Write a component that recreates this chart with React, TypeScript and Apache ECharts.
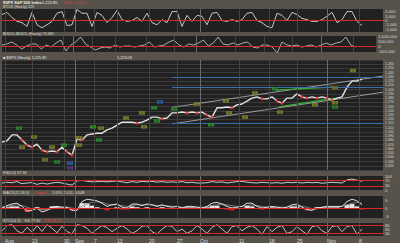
import React, { useEffect, useRef } from "react";
import * as echarts from "echarts";

// ---------- tick labels (x) ----------
const tickLabels = ["Aug", "23", "30", "Sep", "7", "13", "20", "27", "Oct", "11", "18", "25", "Nov", "8"];
const tickPos = [0.6, 6, 12.4, 14.6, 18.4, 23, 29.4, 35, 39.6, 47.4, 53.4, 59, 65, 71.4];
const monthPos = [14.6, 39.6, 65];

// ---------- price (closes, hourly sampled) ----------
const closes = [
  1076, 1079, 1093, 1093, 1081, 1069, 1064, 1071, 1057, 1053,
  1055, 1053, 1064, 1053, 1045, 1083, 1081, 1093, 1095, 1097,
  1097, 1105, 1109, 1116, 1123, 1123, 1123, 1121, 1123, 1128,
  1135, 1135, 1131, 1133, 1145, 1145, 1147, 1145, 1147, 1145,
  1147, 1140, 1135, 1157, 1157, 1159, 1157, 1164, 1166, 1173,
  1180, 1183, 1178, 1178, 1183, 1173, 1168, 1180, 1180, 1190,
  1183, 1180, 1183, 1180, 1183, 1180, 1175, 1180, 1183, 1206,
  1220, 1220, 1225,
];

// ---------- upper indicator panels ----------
const tickValues = [
  1400, 1900, 700, -200, -500, -1400, 1900, -1000, -1700, -1000,
  -200, 1700, 2100, -1200, -1000, 2600, 1700, 1700, -1400, 1900,
  1200, -500, 700, 2400, 200, -200, 0, 700, -200, 1700,
  -500, -1000, 200, -500, 2100, 2100, -1400, 1200, -200, 1200,
  1000, -1000, 1700, 1900, 0, -200, 200, -200, 200, 1700,
  1900, 0, -500, -1400, -1700, 1700, 1200, 0, 1900, 1400,
  500, 200, -200, -200, 200, 1000, 1900, -500, 200, 2100,
  2100, -200, -1200,
];
const upDownK = [
  100, 200, 400, 100, -300, 0, 200, 200, -300, 100,
  -100, 300, 600, -500, 100, 400, 900, 200, -100, -400,
  -200, -100, -200, 100, -100, 0, 0, -100, 0, 100,
  400, -100, 0, 100, 400, 600, 100, -100, 200, 100,
  300, 600, 0, 300, 900, 200, 100, 300, 100, 300,
  400, -100, -200, 100, 100, -100, -700, 400, 100, 0,
  100, -100, 0, 100, -100, 100, 300, 100, 300, 400,
  900, 100, -100,
];

// ---------- lower indicator panels ----------
const rsiValues = [
  50, 55, 52, 60, 45, 50, 53, 40, 50, 42,
  50, 55, 50, 42, 35, 65, 68, 63, 58, 60,
  62, 58, 62, 64, 58, 52, 60, 55, 62, 58,
  62, 56, 60, 55, 58, 55, 60, 52, 55, 50,
  50, 52, 60, 55, 58, 50, 55, 60, 62, 56,
  52, 50, 55, 52, 50, 53, 48, 55, 52, 56,
  50, 55, 52, 54, 48, 52, 55, 53, 50, 72,
  78, 70, 62,
];
const macdValues = [
  0, 1.5, 2.5, 3, 1, -2, -1.5, 0, -2.5, -1.5,
  0.5, 1, 0.5, 0.5, -1.5, -1.5, 4, 5.5, 5, 4.5,
  3, 1, 2, 2.5, 0.5, 0, 2.5, 2.5, 1.5, 2.5,
  2, 1, 2, 1, 0.5, 1, 0, 1, 1, 0.5,
  0, 1, 3, 3.5, 2.5, 1, 0, 0.5, 1, 3,
  3, 1, 0, 0.5, 1, 0.5, 0, 0.5, 2, 2.5,
  0.5, -1, -1.5, 0, 0.5, 1, 1, 1, 1, 4,
  5.5, 4.5, 2,
];
const signalValues = [
  0.5, 1, 1.5, 2, 1.5, 0.5, -0.5, -0.5, -1, -1,
  -0.5, 0, 0.5, 0.5, 0, -0.5, 1, 2.5, 3.5, 4,
  3.5, 2.5, 2, 2, 1.5, 1, 1.5, 2, 2, 2,
  2, 1.5, 1.5, 1.5, 1, 1, 0.5, 0.5, 0.5, 0.5,
  0.5, 0.5, 1.5, 2, 2.5, 2, 1.5, 1, 1, 1.5,
  2, 1.5, 1, 0.5, 0.5, 0.5, 0.5, 0.5, 1, 1.5,
  1, 0.5, -0.5, -0.5, 0, 0.5, 0.5, 0.5, 1, 2,
  3, 3.5, 3,
];
const stoValues = [
  40, 80, 87, 40, 20, 67, 30, 80, 35, 87,
  60, 25, 75, 35, 15, 87, 80, 60, 20, 53,
  80, 65, 33, 60, 80, 55, 20, 40, 75, 80,
  33, 15, 53, 80, 75, 33, 53, 20, 40, 80,
  53, 20, 67, 87, 53, 20, 73, 80, 40, 67,
  80, 53, 13, 73, 33, 67, 80, 20, 33, 73,
  40, 13, 73, 80, 40, 20, 73, 80, 33, 73,
  80, 13, 53,
];

// ---------- axis label values ----------
const tickAxisLabels = [2000, 1000, 0, -1000, -2000];
const udAxisLabels = [1000000, 500000, 0, -500000];
const rsiAxisLabels = [100, 70, 30, 0];
const macdAxisLabels = [5, 0, -5];
const stoAxisLabels = [80, 50, 20];

// ---------- drawn trend lines / levels (bar index, price) ----------
const channelUpper = [[34, 1158], [76.2, 1232]];
const channelLower = [[34, 1119], [76.2, 1194]];
const greenUpper = [[54.6, 1199], [66, 1206]];
const greenLower = [[55.4, 1159], [66.6, 1180]];
const blueLevels = [1230, 1206, 1121];
const blueStart = 34;

// ---------- wave-count boxes ----------
const waveX = [3.4, 4, 6.4, 10, 8.6, 12.4, 11, 13.6, 13.6, 15.4, 15.4, 18.2, 19.8, 19.4, 24.8, 28, 28.4, 30.4, 31, 31.6, 34.4, 39, 41.8, 44.8, 45.4, 48.6, 50.6, 54.6, 55.6, 62.6, 66.6, 66.6, 66.6, 70.2];
const waveP = [1109, 1064, 1088, 1064, 1034, 1069, 1029, 1026, 1015, 1086, 1069, 1112, 1109, 1081, 1133, 1145, 1112, 1157, 1126, 1171, 1154, 1166, 1117, 1173, 1145, 1135, 1192, 1202, 1147, 1164, 1204, 1169, 1159, 1245];
const waveText = ["(1)", "a", "b", "c", "(2)", "1", "(2)", "(2)", "[2]", "a", "2", "3", "b", "c", "i", "ii", "iv", "3", "4", "A", "(3)", "a", "4", "b", "c", "i", "ii", "(3)", "iv", "v", "(5)", "4", "(4)", "5"];
const waveKind = ["g", "o", "o", "o", "o", "g", "g", "b", "p", "o", "o", "g", "o", "g", "o", "o", "o", "g", "g", "b", "g", "o", "g", "o", "o", "o", "o", "g", "o", "o", "o", "o", "g", "o"];

// ---------- text notes ----------
const noteX = [2.6, 34, 34, 66.6, 71, 66.6, 67, 69.6, 66.6, 34];
const noteP = [1214, 1232, 1209, 1266, 1245, 1232, 1180, 1164, 1152, 1097];
const noteText = [
  "SPX 60-min chart",
  "161.8% (1,229.10)",
  "100% (1,205.36)",
  "100% (1,250.56)",
  "161.8% (1,237)",
  "80% (1,235.45)",
  "1,185.72 (1,191.62)",
  "1.618 of [3] from [4]",
  "extension of [3] from [1]",
  "retracement of A from B",
];
const noteKind = ["w", "w", "w", "w", "w", "w", "w", "g", "m", "b"];

const XMAX = 76.2;
const FONT = "Liberation Sans";
const RED = "#d42a2a";
const BG = "#57534a";
const PANEL = "#212121";

const boxColors: Record<string, string> = { g: "#2f9a2f", o: "#8a8a2a", b: "#2a6cc0", p: "#6a3aa8" };
const noteColors: Record<string, string> = { w: "#e8e8e8", g: "#3fd03f", m: "#d040c0", b: "#3a8ae0" };

const fmt = (v: number) => v.toLocaleString("en-US");

function vlines() {
  return tickPos.map((v) => ({
    xAxis: v,
    lineStyle: { color: monthPos.includes(v) ? "#6c6c6c" : "#434343", width: 1, type: "solid" },
  }));
}
function hline(v: number, color = RED) {
  return { yAxis: v, lineStyle: { color, width: 1, type: "solid" } };
}
function markLine(data: any[]) {
  return { silent: true, symbol: ["none", "none"], label: { show: false }, animation: false, data };
}

function buildOption() {
  const gridDefs = [
    { top: 9, height: 23 },
    { top: 36, height: 16 },
    { top: 60, height: 110 },
    { top: 176, height: 14 },
    { top: 196, height: 22 },
    { top: 223, height: 15 },
  ];
  const grid = gridDefs.map((g) => ({ ...g, left: 2, right: 17, show: true, backgroundColor: PANEL, borderWidth: 0 }));

  const xAxis = gridDefs.map((_, i) => ({
    type: "value",
    gridIndex: i,
    min: 0,
    max: XMAX,
    axisLine: { show: false },
    axisTick: { show: false },
    splitLine: { show: false },
    axisLabel:
      i === 5
        ? {
            show: true,
            customValues: tickPos,
            formatter: (v: number) => {
              const k = tickPos.findIndex((t) => Math.abs(t - v) < 1e-6);
              return k >= 0 ? tickLabels[k] : "";
            },
            fontSize: 5,
            fontFamily: FONT,
            color: "#dddddd",
            align: "left",
            margin: 2,
          }
        : { show: false },
  }));

  const yLabel = (extra: any = {}) => ({
    show: true,
    fontSize: 4.2,
    fontFamily: FONT,
    color: "#d6d6d6",
    margin: 2,
    formatter: (v: number) => fmt(v),
    ...extra,
  });
  const yBase = (i: number, min: number, max: number, labels: number[] | null, extra: any = {}) => ({
    type: "value",
    gridIndex: i,
    position: "right",
    min,
    max,
    axisLine: { show: false },
    axisTick: { show: false },
    splitLine: { show: false },
    axisLabel: labels ? yLabel({ customValues: labels }) : yLabel(),
    ...extra,
  });
  const yAxis = [
    yBase(0, -2700, 2700, tickAxisLabels),
    yBase(1, -600000, 1000000, udAxisLabels),
    {
      ...yBase(2, 1010, 1270, null),
      interval: 10,
      splitLine: { show: true, lineStyle: { color: "#3b3b3b", width: 1 } },
      axisLabel: yLabel({ showMinLabel: false, showMaxLabel: false, fontSize: 3.5, lineHeight: 3.5 }),
    },
    yBase(3, 0, 100, rsiAxisLabels),
    yBase(4, -6.25, 7.5, macdAxisLabels),
    yBase(5, 0, 100, stoAxisLabels),
  ];

  // red ticks where the close fell from the previous bar
  const redTicks = closes
    .map((c, i) => (i > 0 && c < closes[i - 1] ? [i, c] : null))
    .filter((d) => d !== null);

  const blueMarks = blueLevels.map((v) => [
    { coord: [blueStart, v], lineStyle: { color: "#3a6eb0", width: 1, type: "solid" } },
    { coord: [XMAX, v] },
  ]);

  const series: any[] = [
    {
      type: "line",
      xAxisIndex: 0,
      yAxisIndex: 0,
      data: tickValues.map((v, i) => [i, v]),
      symbol: "none",
      lineStyle: { color: "#dadada", width: 0.9 },
      markLine: markLine([...vlines(), hline(0)]),
    },
    {
      type: "line",
      xAxisIndex: 1,
      yAxisIndex: 1,
      data: upDownK.map((v, i) => [i, v * 1000]),
      symbol: "none",
      lineStyle: { color: "#cfcfcf", width: 0.8 },
      markLine: markLine([...vlines(), hline(0)]),
    },
    {
      type: "line",
      xAxisIndex: 2,
      yAxisIndex: 2,
      data: channelUpper,
      symbol: "none",
      z: 2,
      lineStyle: { color: "#b8b8b8", width: 0.8 },
      markLine: markLine([...vlines(), ...blueMarks]),
    },
    {
      type: "line",
      xAxisIndex: 2,
      yAxisIndex: 2,
      data: channelLower,
      symbol: "none",
      z: 2,
      lineStyle: { color: "#b8b8b8", width: 0.8 },
    },
    {
      type: "line",
      xAxisIndex: 2,
      yAxisIndex: 2,
      data: greenUpper,
      symbol: "none",
      z: 3,
      lineStyle: { color: "#34b034", width: 1.2 },
    },
    {
      type: "line",
      xAxisIndex: 2,
      yAxisIndex: 2,
      data: greenLower,
      symbol: "none",
      z: 3,
      lineStyle: { color: "#34b034", width: 1.2 },
    },
    {
      type: "line",
      xAxisIndex: 2,
      yAxisIndex: 2,
      data: closes.map((c, i) => [i, c]),
      symbol: "none",
      z: 4,
      lineStyle: { color: "#e2e2e2", width: 1.4 },
    },
    {
      type: "scatter",
      xAxisIndex: 2,
      yAxisIndex: 2,
      data: redTicks,
      symbol: "rect",
      symbolSize: [2.5, 3],
      z: 5,
      itemStyle: { color: "#e02a2a" },
    },
    {
      type: "scatter",
      xAxisIndex: 2,
      yAxisIndex: 2,
      z: 6,
      data: waveX.map((x, i) => ({
        value: [x, waveP[i]],
        symbol: "rect",
        symbolSize: [6, 3.5],
        itemStyle: { color: boxColors[waveKind[i]] },
        label: {
          show: true,
          position: "inside",
          formatter: waveText[i],
          fontSize: 3,
          fontFamily: FONT,
          color: "#101010",
        },
      })),
    },
    {
      type: "scatter",
      xAxisIndex: 2,
      yAxisIndex: 2,
      z: 7,
      data: noteX.map((x, i) => ({
        value: [x, noteP[i]],
        symbolSize: 1,
        itemStyle: { opacity: 0 },
        label: {
          show: true,
          position: "right",
          distance: 0,
          formatter: noteText[i],
          fontSize: 3.5,
          fontFamily: FONT,
          color: noteColors[noteKind[i]],
          backgroundColor: noteKind[i] === "w" ? "#0a0a0a" : "transparent",
          padding: [0, 1],
        },
      })),
    },
    {
      type: "line",
      xAxisIndex: 3,
      yAxisIndex: 3,
      data: rsiValues.map((v, i) => [i, v]),
      symbol: "none",
      lineStyle: { color: "#dcdcdc", width: 0.9 },
      markLine: markLine([...vlines(), hline(70), hline(30)]),
    },
    {
      type: "bar",
      xAxisIndex: 4,
      yAxisIndex: 4,
      data: macdValues.map((v, i) => {
        const h = v - signalValues[i];
        return { value: [i, h], itemStyle: { color: h >= 0 ? "#e6e6e6" : "#d42020" } };
      }),
      barWidth: 5,
      markLine: markLine([...vlines(), hline(0)]),
    },
    {
      type: "line",
      xAxisIndex: 4,
      yAxisIndex: 4,
      data: signalValues.map((v, i) => [i, v]),
      symbol: "none",
      lineStyle: { color: "#8c8c8c", width: 0.8 },
    },
    {
      type: "line",
      xAxisIndex: 4,
      yAxisIndex: 4,
      data: macdValues.map((v, i) => [i, v]),
      symbol: "none",
      lineStyle: { color: "#f0f0f0", width: 0.9 },
    },
    {
      type: "line",
      xAxisIndex: 5,
      yAxisIndex: 5,
      data: stoValues.map((v, i) => [i, v]),
      symbol: "none",
      lineStyle: { color: "#ecc8c8", width: 0.9 },
      markLine: markLine([...vlines(), hline(80), hline(20)]),
    },
  ];

  const txt = (x: number, y: number, text: string, fill = "#e8e8e8", size = 4.5, weight: any = "normal") => ({
    type: "text",
    x,
    y,
    style: { text, fill, fontSize: size, fontFamily: FONT, fontWeight: weight, textVerticalAlign: "middle" },
    silent: true,
    z: 20,
  });

  const graphic = [
    txt(3, 2.5, "$SPX S&P 500 Index", "#f0f0f0", 4, "bold"),
    txt(42, 2.5, "1,225.85", "#f0f0f0", 4),
    txt(62, 2.5, "-3.66  -0.31%", "#e03a3a", 4),
    txt(3, 6.5, "$TICK (Hourly) 229", "#dedede", 3.6),
    txt(3, 34, "$UVOL-$DVOL (Hourly) 73,383", "#dedede", 3.6),
    txt(3, 57.5, "\u25A0 $SPX (Hourly) 1,225.85", "#e8e8e8", 3.8),
    txt(117, 57.5, "1,223.03", "#e8e8e8", 3.8),
    txt(3, 173, "RSI(14) 67.96", "#dedede", 3.8),
    txt(3, 193, "MACD(12,26,9)", "#dedede", 3.8),
    txt(32, 193, "\u2014 signal", "#e03a3a", 3.8),
    txt(52, 193, "2.059, 2.011, 0.048", "#dedede", 3.8),
    txt(3, 220.5, "STO(14,3)", "#dedede", 3.8),
    txt(24, 220.5, "%K 77.62", "#dedede", 3.8),
    txt(44, 220.5, "%D 73.27", "#e03a3a", 3.8),
  ];

  return {
    animation: false,
    backgroundColor: BG,
    grid,
    xAxis,
    yAxis,
    series,
    graphic,
  };
}

export default function App() {
  const ref = useRef<HTMLDivElement>(null);
  useEffect(() => {
    const chart = echarts.init(ref.current!, undefined, { renderer: "svg" });
    chart.setOption(buildOption() as any);
    return () => chart.dispose();
  }, []);
  return <div ref={ref} style={{ position: "absolute", left: 0, top: 0, width: 400, height: 243 }} />;
}
